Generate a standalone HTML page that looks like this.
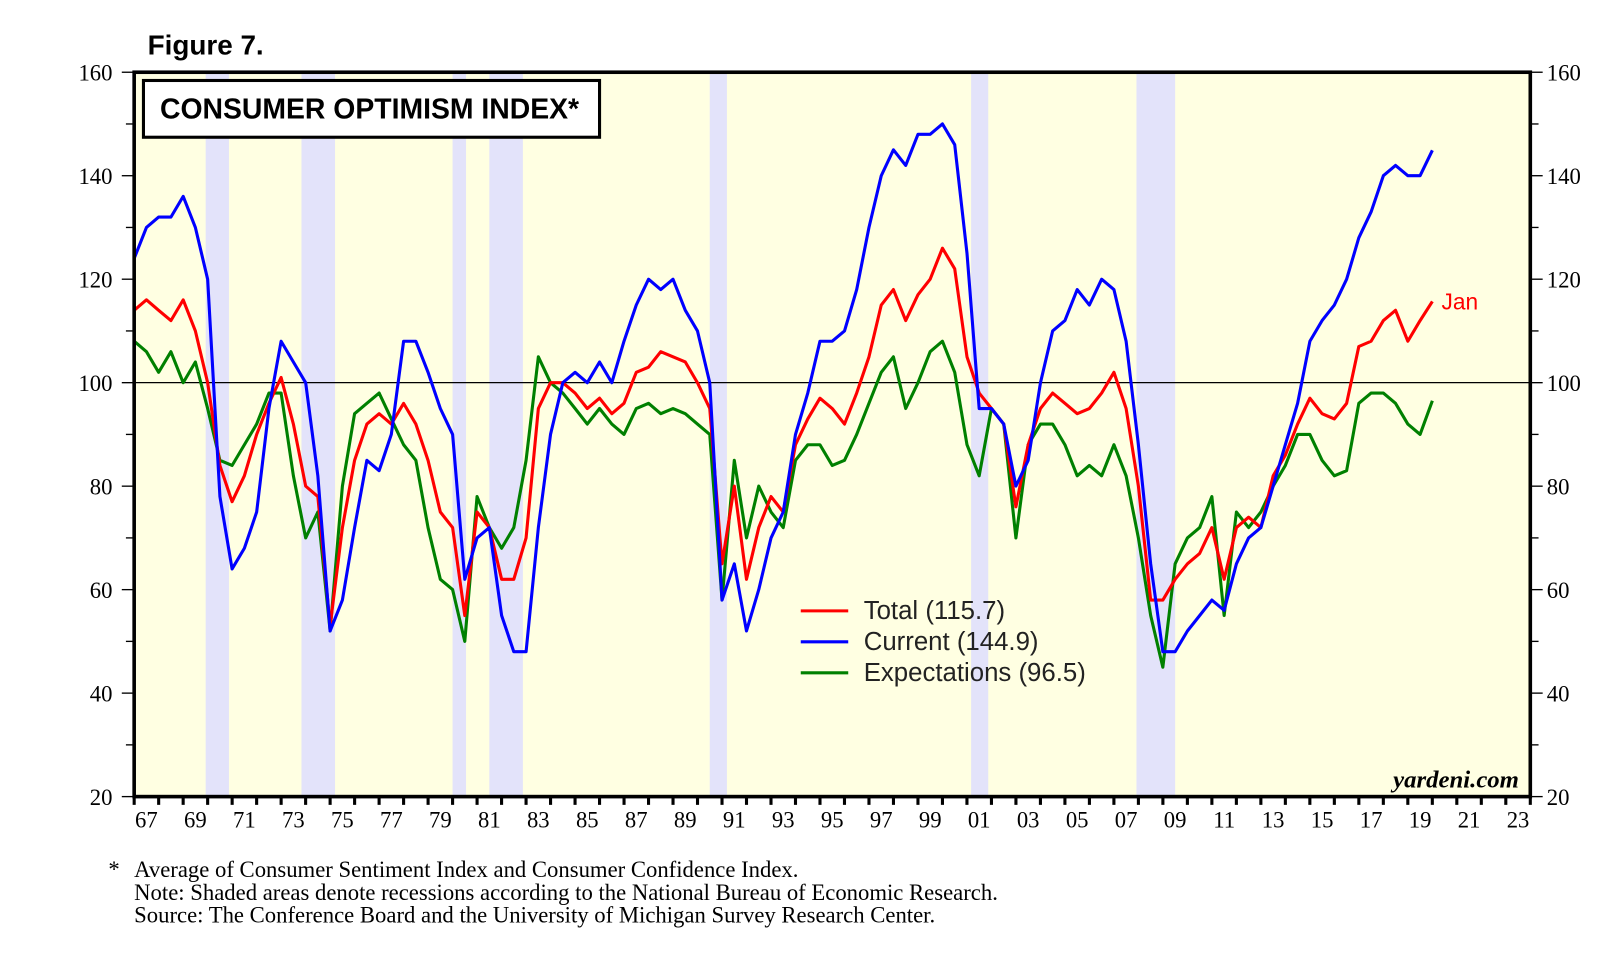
<!DOCTYPE html>
<html><head><meta charset="utf-8"><style>
html,body{margin:0;padding:0;background:#fff;}
svg{display:block;}
</style></head><body>
<svg id="chart" width="1617" height="955" viewBox="0 0 1567 925.5" xmlns="http://www.w3.org/2000/svg">
<text x="143" y="53" font-family="Liberation Sans, sans-serif" font-weight="bold" font-size="27">Figure 7.</text>
<rect x="130" y="70" width="1353" height="702" fill="#FFFFE2"/>
<g id="recessions"></g>
<g id="grid"></g>
<g id="series"></g>
<rect x="130" y="70" width="1353" height="702" fill="none" stroke="#000" stroke-width="3.5"/>
<rect x="139" y="78" width="442" height="55" fill="#fff" stroke="#000" stroke-width="3"/>
<text x="155" y="115" font-family="Liberation Sans, sans-serif" font-weight="bold" font-size="27.5">CONSUMER OPTIMISM INDEX*</text>
<g id="axes"></g>
<g font-family="Liberation Sans, sans-serif" font-size="25" fill="#222">
<line x1="776" y1="592" x2="822" y2="592" stroke="#ff0000" stroke-width="3"/>
<text x="837" y="600">Total (115.7)</text>
<line x1="776" y1="622" x2="822" y2="622" stroke="#0000ff" stroke-width="3"/>
<text x="837" y="630">Current (144.9)</text>
<line x1="776" y1="652" x2="822" y2="652" stroke="#008000" stroke-width="3"/>
<text x="837" y="660">Expectations (96.5)</text>
</g>
<text x="1397" y="300" font-family="Liberation Sans, sans-serif" font-size="22" fill="#ff0000">Jan</text>
<text x="1472" y="763" text-anchor="end" font-family="Liberation Serif, serif" font-style="italic" font-weight="bold" font-size="24">yardeni.com</text>
<g font-family="Liberation Serif, serif" font-size="22">
<text x="105" y="850">*</text>
<text x="130" y="850">Average of Consumer Sentiment Index and Consumer Confidence Index.</text>
<text x="130" y="872">Note: Shaded areas denote recessions according to the National Bureau of Economic Research.</text>
<text x="130" y="894">Source: The Conference Board and the University of Michigan Survey Research Center.</text>
</g>
</svg>
<script>
const dates = [];
for (let i = 0; i <= 106; i++) dates.push(1967 + i * 0.5);
const totalValues = [114,116,114,112,116,110,100,84,77,82,90,96,101,92,80,78,53,72,85,92,94,92,96,92,85,75,72,55,75,72,62,62,70,95,100,100,98,95,97,94,96,102,103,106,105,104,100,95,65,80,62,72,78,75,88,93,97,95,92,98,105,115,118,112,117,120,126,122,105,98,95,92,76,88,95,98,96,94,95,98,102,95,80,58,58,62,65,67,72,62,72,74,72,82,86,92,97,94,93,96,107,108,112,114,108,112,115.7];
const currentValues = [124,130,132,132,136,130,120,78,64,68,75,95,108,104,100,82,52,58,72,85,83,90,108,108,102,95,90,62,70,72,55,48,48,72,90,100,102,100,104,100,108,115,120,118,120,114,110,100,58,65,52,60,70,75,90,98,108,108,110,118,130,140,145,142,148,148,150,146,125,95,95,92,80,85,100,110,112,118,115,120,118,108,88,65,48,48,52,55,58,56,65,70,72,80,88,96,108,112,115,120,128,133,140,142,140,140,144.9];
const expectationValues = [108,106,102,106,100,104,95,85,84,88,92,98,98,82,70,75,52,80,94,96,98,93,88,85,72,62,60,50,78,72,68,72,85,105,100,98,95,92,95,92,90,95,96,94,95,94,92,90,58,85,70,80,75,72,85,88,88,84,85,90,96,102,105,95,100,106,108,102,88,82,95,92,70,88,92,92,88,82,84,82,88,82,70,55,45,65,70,72,78,55,75,72,75,80,84,90,90,85,82,83,96,98,98,96,92,90,96.5];
const recessionStarts = [1969.92,1973.83,1980.0,1981.5,1990.5,2001.17,2007.92];
const recessionEnds = [1970.87,1975.2,1980.55,1982.87,1991.2,2001.87,2009.5];
const leftTicks = [20,40,60,80,100,120,140,160];
const yearLabels = ['67','69','71','73','75','77','79','81','83','85','87','89','91','93','95','97','99','01','03','05','07','09','11','13','15','17','19','21','23'];

const NS='http://www.w3.org/2000/svg';
const X0=130,X1=1483,Y0=772,Y1=70,YR0=1967,YR1=2024,V0=20,V1=160;
const xs=y=>X0+(y-YR0)/(YR1-YR0)*(X1-X0);
const ys=v=>Y0-(v-V0)/(V1-V0)*(Y0-Y1);
function mk(tag,attrs,parent){const e=document.createElementNS(NS,tag);for(const k in attrs)e.setAttribute(k,attrs[k]);parent.appendChild(e);return e;}

const rg=document.getElementById('recessions');
recessionStarts.forEach((s,i)=>{
  const r=mk('rect',{x:xs(s),y:Y1,width:xs(recessionEnds[i])-xs(s),height:Y0-Y1,fill:'#E3E3FA'},rg);
  
  
});
const gg=document.getElementById('grid');
const ref=mk('line',{x1:X0,x2:X1,y1:ys(100),y2:ys(100),stroke:'#000','stroke-width':1.2},gg);



const sg=document.getElementById('series');
[[expectationValues,'#008000','expectations-line'],[totalValues,'#ff0000','total-line'],[currentValues,'#0000ff','current-line']].forEach(([vals,col,name])=>{
  const d=vals.map((v,i)=>(i?'L':'M')+xs(dates[i]).toFixed(1)+','+ys(v).toFixed(1)).join('');
  const p=mk('path',{d:d,fill:'none',stroke:col,'stroke-width':3,'stroke-linejoin':'round'},sg);
  
  
});

const ag=document.getElementById('axes');
for(let v=V0;v<=V1;v+=10){
  const major=v%20===0;
  mk('line',{x1:major?118:122,x2:X0,y1:ys(v),y2:ys(v),stroke:'#000','stroke-width':1.3},ag);
  mk('line',{x1:X1,x2:major?1495:1491,y1:ys(v),y2:ys(v),stroke:'#000','stroke-width':1.3},ag);
}
leftTicks.forEach(v=>{
  const t=mk('text',{x:109,y:ys(v)+8,'text-anchor':'end','font-family':'Liberation Serif, serif','font-size':22},ag);
  t.textContent=v;
  
  
  const t2=mk('text',{x:1499,y:ys(v)+8,'font-family':'Liberation Serif, serif','font-size':22},ag);
  t2.textContent=v;
  
  
});
for(let y=YR0;y<=YR1;y++){
  mk('line',{x1:xs(y),x2:xs(y),y1:Y0,y2:Y0+8,stroke:'#000','stroke-width':3},ag);
}
yearLabels.forEach((l,i)=>{
  const t=mk('text',{x:xs(YR0+2*i+0.5),y:802,'text-anchor':'middle','font-family':'Liberation Serif, serif','font-size':22},ag);
  t.textContent=l;
  
  
});
</script>
</body></html>
